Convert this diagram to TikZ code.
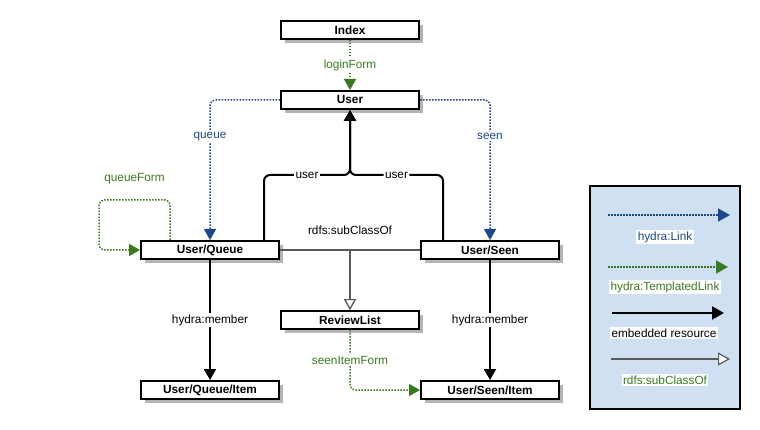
\documentclass[tikz,border=0pt]{standalone}
\usepackage{fontspec}
\setmainfont{Liberation Sans}
\usetikzlibrary{arrows.meta,positioning,shadows}
\definecolor{linkblue}{RGB}{30,72,140}
\definecolor{formgreen}{RGB}{58,122,30}
\definecolor{legendfill}{RGB}{206,224,242}
\definecolor{shadowgray}{RGB}{180,180,180}

\begin{document}
\begin{tikzpicture}[
  x=1pt,y=-1pt,
  font=\fontsize{11.8}{13}\selectfont,
  res/.style={draw,line width=2pt,fill=white,minimum width=138pt,minimum height=18pt,inner sep=0pt,
    font=\fontsize{11.8}{13}\selectfont\bfseries,
    drop shadow={shadow xshift=4pt,shadow yshift=-4pt,fill=shadowgray,opacity=1}},
  lbl/.style={fill=white,inner sep=1.5pt},
  link/.style={line width=1.5pt,linkblue,dash pattern=on 1.5pt off 1.5pt,rounded corners=5pt,
    -{Triangle[width=12pt,length=11pt]}},
  tlink/.style={link,formgreen},
  embed/.style={line width=2pt,rounded corners=6pt,-{Triangle[width=12pt,length=11pt]}},
  subcls/.style={line width=1.2pt,black!65,-{Triangle[open,width=12pt,length=11pt,fill=white]}}
]
  \useasboundingbox (0,0) rectangle (760,430);

  \node[res] (index) at (350,30) {Index};
  \node[res] (user) at (350,100) {User};
  \node[res] (queue) at (210,250) {User/Queue};
  \node[res] (seen) at (490,250) {User/Seen};
  \node[res] (review) at (350,320) {ReviewList};
  \node[res] (queueitem) at (210,390) {User/Queue/Item};
  \node[res] (seenitem) at (490,390) {User/Seen/Item};
  \coordinate (loop) at (99,200);
  \coordinate (join) at (350,175);

  \draw[tlink] (index) -- node[lbl] {loginForm} (user);
  \draw[link] (user.west) -| node[lbl,pos=0.63] {queue} (queue.north);
  \draw[link] (user.east) -| node[lbl,pos=0.63] {seen} (seen.north);
  \draw[tlink] ([xshift=-40pt]queue.north) |- node[pos=0.75,above=14pt,inner sep=1pt] {queueForm} (loop) |- (queue.west);
  \draw[embed] ([xshift=54pt]queue.north) |- node[lbl,pos=0.75] {user} (join) -- (user.south);
  \draw[embed] ([xshift=-47pt]seen.north) |- node[lbl,pos=0.75] {user} (join) -- (user.south);
  \draw[subcls] (queue.east) -| node[pos=0.5,above=14pt,inner sep=1pt,text=black] {rdfs:subClassOf} (review.north);
  \draw[subcls] (seen.west) -| (review.north);
  \draw[embed] (queue) -- node[lbl] {hydra:member} (queueitem);
  \draw[embed] (seen) -- node[lbl] {hydra:member} (seenitem);
  \draw[tlink] (review.south) |- node[lbl,pos=0.25] {seenItemForm} (seenitem.west);

  % legend
  \node[draw,line width=2pt,fill=legendfill,minimum width=150pt,minimum height=223pt] (legend) at (665,297.5) {};
  \coordinate (linka) at (608,215);
  \coordinate (linkb) at (730,215);
  \coordinate (tlinka) at (608,267);
  \coordinate (tlinkb) at (728,267);
  \coordinate (embeda) at (612,313);
  \coordinate (embedb) at (724,313);
  \coordinate (subclsa) at (611,359);
  \coordinate (subclsb) at (730,359);
  \draw[link,-{Triangle[width=13pt,length=12pt]}] (linka) -- (linkb);
  \draw[tlink,-{Triangle[width=13pt,length=12pt]}] (tlinka) -- (tlinkb);
  \draw[embed,-{Triangle[width=13pt,length=12pt]}] (embeda) -- (embedb);
  \draw[subcls,-{Triangle[open,width=13pt,length=12pt,fill=white]}] (subclsa) -- (subclsb);
  \node[lbl,text=linkblue] (linklbl) at (665,237) {hydra:Link};
  \node[lbl,text=formgreen] (tlinklbl) at (665,287) {hydra:TemplatedLink};
  \node[lbl] (embedlbl) at (664,333) {embedded resource};
  \node[lbl,text=formgreen] (subclslbl) at (665,380) {rdfs:subClassOf};
\end{tikzpicture}
\end{document}
